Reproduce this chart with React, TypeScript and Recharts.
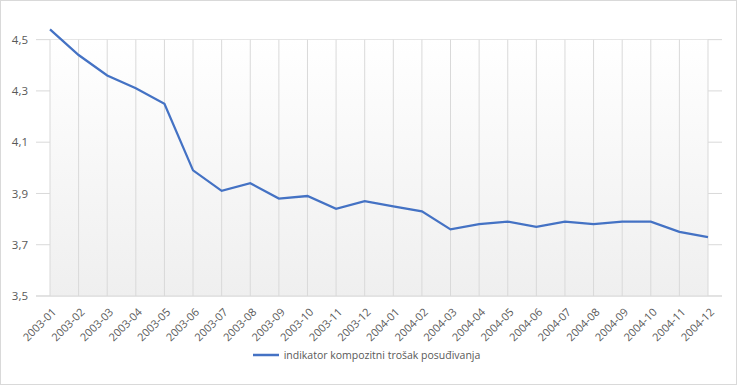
import React from "react";
import {
  LineChart,
  Line,
  XAxis,
  YAxis,
  CartesianGrid,
  Legend,
  ReferenceArea,
  ReferenceLine
} from "recharts";

const months = [
  "2003-01", "2003-02", "2003-03", "2003-04", "2003-05", "2003-06",
  "2003-07", "2003-08", "2003-09", "2003-10", "2003-11", "2003-12",
  "2004-01", "2004-02", "2004-03", "2004-04", "2004-05", "2004-06",
  "2004-07", "2004-08", "2004-09", "2004-10", "2004-11", "2004-12"
];

const costValues = [
  4.54, 4.44, 4.36, 4.31, 4.25, 3.99,
  3.91, 3.94, 3.88, 3.89, 3.84, 3.87,
  3.85, 3.83, 3.76, 3.78, 3.79, 3.77,
  3.79, 3.78, 3.79, 3.79, 3.75, 3.73
];

const yTicks = [3.5, 3.7, 3.9, 4.1, 4.3, 4.5];
const Y_MIN = 3.5;
const Y_MAX = 4.6;
const Y_TOP_TICK = 4.5;
const X_PAD = 14;

const SERIES_NAME = "indikator kompozitni trošak posuđivanja";
const FONT = "'Open Sans', 'Noto Sans', sans-serif";
const LINE_COLOR = "#4472C4";
const GRID = "#d9d9d9";

const data = months.map((m, i) => ({ month: m, value: costValues[i] }));

// rotated category label, anchored at its end like the spreadsheet original
const MonthTick = (props: any) => {
  const { x, y, payload } = props;
  return (
    <g transform={`translate(${x + 4},${y + 6})`}>
      <text
        textAnchor="end"
        transform="rotate(-45)"
        fontSize={11}
        fontFamily={FONT}
        fill="#595959"
        dy={4}
      >
        {payload.value}
      </text>
    </g>
  );
};

const LegendLine = () => (
  <div
    style={{
      display: "flex",
      justifyContent: "center",
      alignItems: "center",
      fontFamily: FONT,
      fontSize: 10.5,
      color: "#595959",
      paddingLeft: 8
    }}
  >
    <svg width={30} height={10} style={{ marginRight: 3 }}>
      <line x1={2} y1={5} x2={28} y2={5} stroke={LINE_COLOR} strokeWidth={2.5} />
    </svg>
    <span>{SERIES_NAME}</span>
  </div>
);

// horizontal grid only at the real ticks
const hLines = ({ offset }: any) =>
  yTicks.map((t) => offset.top + ((Y_MAX - t) / (Y_MAX - Y_MIN)) * offset.height);

export default function App() {
  return (
    <div
      style={{
        position: "absolute",
        left: 0,
        top: 0,
        width: 737,
        height: 385,
        boxSizing: "border-box",
        border: "1px solid #d9d9d9",
        background: "#fff"
      }}
    >
      <LineChart
        width={735}
        height={383}
        data={data}
        margin={{ top: 13, right: 14, left: 0, bottom: 10 }}
      >
        <defs>
          <linearGradient id="plotBg" x1="0" y1="0" x2="0" y2="1">
            <stop offset="0%" stopColor="#ffffff" />
            <stop offset="100%" stopColor="#efefef" />
          </linearGradient>
        </defs>
        <ReferenceArea
          y1={Y_MIN}
          y2={Y_TOP_TICK}
          fill="url(#plotBg)"
          fillOpacity={1}
          stroke="none"
        />
        <CartesianGrid
          stroke={GRID}
          vertical={false}
          horizontalCoordinatesGenerator={hLines}
        />
        {months.map((m) => (
          <ReferenceLine
            key={m}
            segment={[
              { x: m, y: Y_MIN },
              { x: m, y: Y_TOP_TICK }
            ]}
            stroke={GRID}
            strokeWidth={1}
          />
        ))}
        <XAxis
          dataKey="month"
          interval={0}
          tick={<MonthTick />}
          tickLine={false}
          axisLine={{ stroke: GRID }}
          padding={{ left: X_PAD, right: X_PAD }}
          height={52}
        />
        <YAxis
          domain={[Y_MIN, Y_MAX]}
          ticks={yTicks}
          width={35}
          tickLine={false}
          axisLine={false}
          tickFormatter={(v: number) => v.toFixed(1).replace(".", ",")}
          tick={{ fill: "#595959", fontSize: 11.5, fontFamily: FONT }}
        />
        <Legend verticalAlign="bottom" height={26} content={<LegendLine />} />
        <Line
          type="linear"
          dataKey="value"
          name={SERIES_NAME}
          stroke={LINE_COLOR}
          strokeWidth={2.25}
          dot={false}
          activeDot={false}
          isAnimationActive={false}
        />
      </LineChart>
    </div>
  );
}
